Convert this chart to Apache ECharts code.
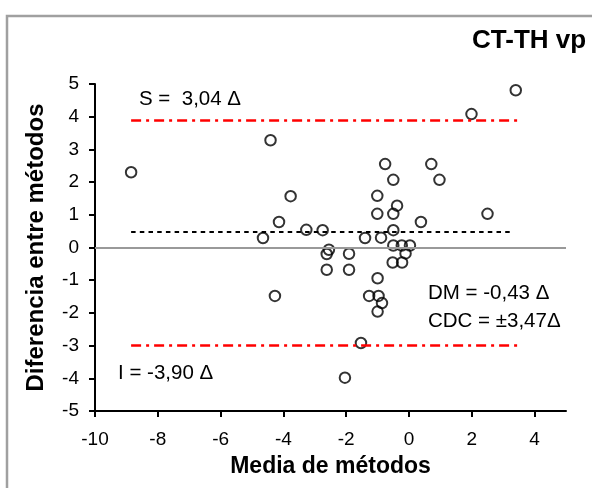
<!DOCTYPE html>
<html>
<head>
<meta charset="utf-8">
<script src="https://cdn.jsdelivr.net/npm/echarts@6/dist/echarts.min.js"></script>
<style>
html,body{margin:0;padding:0;background:#fff;}
#main{width:592px;height:488px;}
</style>
</head>
<body>
<div id="main"></div>
<script>
var myChart = echarts.init(document.getElementById('main'));

// mean of both methods (x) and difference between methods (y)
var mediaX = [-8.85,-4.41,-3.77,-4.14,-4.65,-3.27,-2.75,-2.55,-2.62,-2.62,-1.91,-1.91,-4.27,-1.40,-0.89,
  -1.00,3.40,1.99,-0.76,0.71,-0.50,0.97,-1.01,-1.01,-0.50,-0.38,0.38,2.50,-0.50,-0.50,-0.23,0.03,
  -0.11,-0.52,-0.22,-1.00,-1.27,-0.97,-0.86,-1.00,-1.53,-2.04];
var difY = [2.30,3.28,1.57,0.78,0.29,0.54,0.53,-0.07,-0.20,-0.68,-0.19,-0.68,-1.48,0.29,0.30,
  5.06,4.81,4.08,2.55,2.55,2.07,2.07,1.58,1.03,1.03,1.28,0.78,1.03,0.53,0.06,0.06,0.06,
  -0.18,-0.46,-0.46,-0.94,-1.48,-1.48,-1.70,-1.96,-2.92,-3.98];

// reference lines
var limSup = 3.9;
var limInf = -3.0;
var difMedia = 0.49;
var lineaX = [-8.85, 3.45];
var mediaLineaX = [-8.85, 3.3];

var xTicks = [-10,-8,-6,-4,-2,0,2,4];

var puntos = [];
for (var i = 0; i < mediaX.length; i++) {
    puntos.push([mediaX[i], difY[i]]);
}

var fuente = 'Liberation Sans, Arial, sans-serif';
var rojo = {color:'#ff0000', width:2.5, type:[10,5,3,5]};

var option = {
    backgroundColor:'#fff',
    animation:false,
    grid:{left:95, right:26, top:84, bottom:77, outerBoundsMode:'none'},
    xAxis:{
        type:'value', min:-10, max:5, interval:2,
        name:'Media de métodos', nameLocation:'middle', nameGap:44,
        nameTextStyle:{fontFamily:fuente, fontSize:23, fontWeight:'bold', color:'#000'},
        axisLine:{onZero:false, lineStyle:{color:'#000', width:2}},
        axisTick:{show:true, inside:false, length:6, customValues:xTicks, lineStyle:{color:'#000', width:2}},
        axisLabel:{customValues:xTicks, margin:19, fontFamily:fuente, fontSize:19, color:'#000'},
        splitLine:{show:false}
    },
    yAxis:{
        type:'value', min:-5, max:5, interval:1,
        name:'Diferencia entre métodos', nameLocation:'middle', nameGap:47,
        nameTextStyle:{fontFamily:fuente, fontSize:24, fontWeight:'bold', color:'#000'},
        axisLine:{onZero:false, lineStyle:{color:'#000', width:2}},
        axisTick:{show:true, inside:false, length:6, lineStyle:{color:'#000', width:2}},
        axisLabel:{margin:16, fontFamily:fuente, fontSize:19, color:'#000'},
        splitLine:{show:false}
    },
    graphic:[
        {type:'rect', shape:{x:7, y:16, width:620, height:500}, style:{fill:'none', stroke:'#a0a0a0', lineWidth:2.5}, silent:true},
        {type:'text', left:472, top:28, style:{text:'CT-TH vp', fontFamily:fuente, fontSize:26, fontWeight:'bold', fill:'#000'}},
        {type:'text', left:139, top:89, style:{text:'S =  3,04 Δ', fontFamily:fuente, fontSize:20.5, fill:'#000'}},
        {type:'text', left:118, top:363, style:{text:'I = -3,90 Δ', fontFamily:fuente, fontSize:20.5, fill:'#000'}},
        {type:'text', left:428, top:283, style:{text:'DM = -0,43 Δ', fontFamily:fuente, fontSize:20.5, fill:'#000'}},
        {type:'text', left:428, top:311, style:{text:'CDC = ±3,47Δ', fontFamily:fuente, fontSize:20.5, fill:'#000'}}
    ],
    series:[
        {
            type:'line', data:[], silent:true,
            markLine:{
                silent:true, symbol:'none', label:{show:false},
                data:[
                    {yAxis:0, lineStyle:{color:'#999', width:2, type:'solid'}},
                    [{coord:[lineaX[0], limSup], lineStyle:rojo}, {coord:[lineaX[1], limSup]}],
                    [{coord:[lineaX[0], limInf], lineStyle:rojo}, {coord:[lineaX[1], limInf]}],
                    [{coord:[mediaLineaX[0], difMedia], lineStyle:{color:'#000', width:2, type:[4.5,4.2]}}, {coord:[mediaLineaX[1], difMedia]}]
                ]
            }
        },
        {
            type:'scatter', data:puntos, symbol:'circle', symbolSize:10.5,
            itemStyle:{color:'rgba(0,0,0,0)', borderColor:'#000', borderWidth:2}
        }
    ]
};
myChart.setOption(option);
window.onresize = myChart.resize;
</script>
</body>
</html>
